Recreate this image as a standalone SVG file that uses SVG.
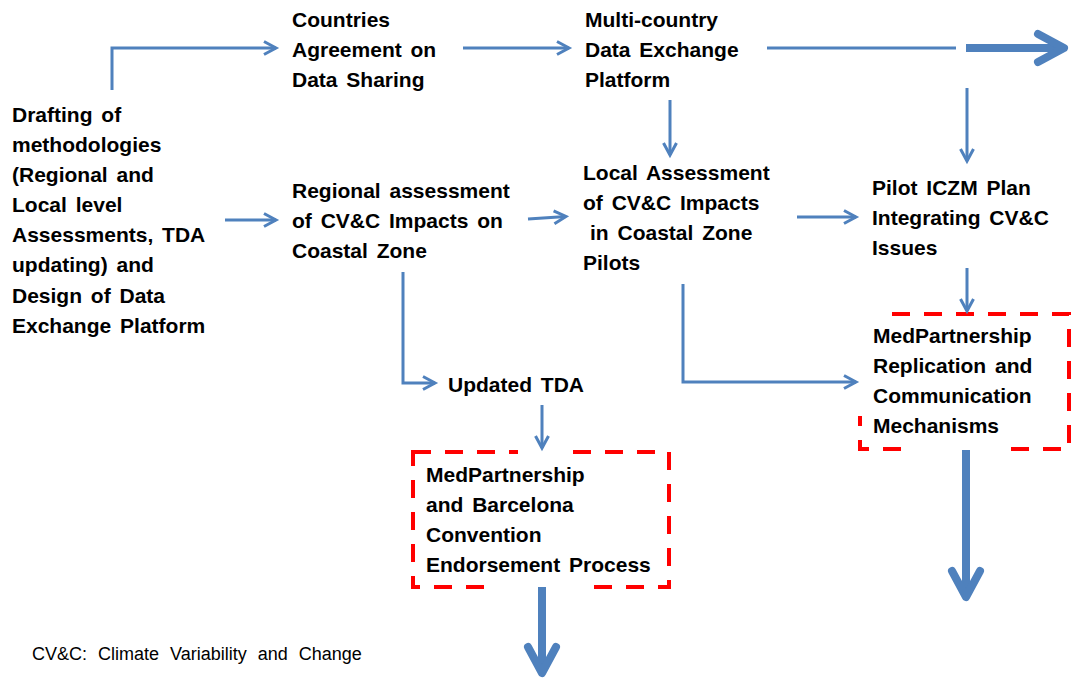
<svg xmlns="http://www.w3.org/2000/svg" width="1071" height="683" viewBox="0 0 1071 683">
<style>
.t{font-family:"Liberation Sans",Arial,sans-serif;font-weight:bold;font-size:21px;fill:#000;word-spacing:3px}
.note{font-family:"Liberation Sans",Arial,sans-serif;font-size:18px;fill:#000;word-spacing:6px}
.c{fill:none;stroke:#4F81BD;stroke-width:3}
.big{fill:none;stroke:#4F81BD;stroke-width:8}
.box{fill:none;stroke:#FF0000;stroke-width:4;stroke-dasharray:18 14}
.mask{fill:#fff;stroke:none}
</style>
<defs>
<marker id="ah" markerUnits="userSpaceOnUse" viewBox="-16 -10 20 20" refX="0" refY="0" markerWidth="20" markerHeight="20" orient="auto">
<path d="M-12,-6.5 L0,0 L-12,6.5" fill="none" stroke="#4F81BD" stroke-width="3"/>
</marker>
<marker id="bh" markerUnits="userSpaceOnUse" viewBox="-34 -20 40 40" refX="0" refY="0" markerWidth="40" markerHeight="40" orient="auto">
<path d="M-26,-14 L0,0 L-26,14" fill="none" stroke="#4F81BD" stroke-width="8" stroke-linecap="round" stroke-linejoin="round"/>
</marker>
</defs>
<rect width="1071" height="683" fill="#fff"/>

<g id="boxes">
<rect id="box-left" class="box" x="413" y="452" width="256" height="135"/>
<rect id="box-right" class="box" x="860" y="314" width="209" height="135"/>
<rect class="mask" x="490" y="580" width="90" height="14"/>
<rect class="mask" x="518" y="446" width="48" height="12"/>
<rect class="mask" x="915" y="443" width="92" height="12"/>
<rect class="mask" x="850" y="305" width="40" height="111"/>
</g>

<g id="connectors">
<path class="c" d="M112,90 V48 H276" marker-end="url(#ah)"/>
<path class="c" d="M225,220 H276" marker-end="url(#ah)"/>
<path class="c" d="M463,48 H569" marker-end="url(#ah)"/>
<path class="c" d="M767,48 H956"/>
<path class="big" d="M966,48 H1064" marker-end="url(#bh)"/>
<path class="c" d="M670,100 V155" marker-end="url(#ah)"/>
<path class="c" d="M967,88 V161" marker-end="url(#ah)"/>
<path class="c" d="M528,219 L566,216.5" marker-end="url(#ah)"/>
<path class="c" d="M797,217 H856" marker-end="url(#ah)"/>
<path class="c" d="M967,268 V311" marker-end="url(#ah)"/>
<path class="c" d="M403,272 V383 H435" marker-end="url(#ah)"/>
<path class="c" d="M683,284 V382 H856" marker-end="url(#ah)"/>
<path class="c" d="M542,405 V448" marker-end="url(#ah)"/>
<path class="big" d="M542,587 V673" marker-end="url(#bh)"/>
<path class="big" d="M966,450 V597" marker-end="url(#bh)"/>
</g>

<g id="node-drafting">
<text class="t" x="12" y="122">Drafting of</text>
<text class="t" x="12" y="152">methodologies</text>
<text class="t" x="12" y="182">(Regional and</text>
<text class="t" x="12" y="212">Local level</text>
<text class="t" x="12" y="242">Assessments, TDA</text>
<text class="t" x="12" y="272">updating) and</text>
<text class="t" x="12" y="303">Design of Data</text>
<text class="t" x="12" y="333">Exchange Platform</text>
</g>

<g id="node-countries">
<text class="t" x="292" y="27">Countries</text>
<text class="t" x="292" y="57">Agreement on</text>
<text class="t" x="292" y="87">Data Sharing</text>
</g>

<g id="node-multicountry">
<text class="t" x="585" y="27">Multi-country</text>
<text class="t" x="585" y="57">Data Exchange</text>
<text class="t" x="585" y="87">Platform</text>
</g>

<g id="node-regional">
<text class="t" x="292" y="198">Regional assessment</text>
<text class="t" x="292" y="228">of CV&amp;C Impacts on</text>
<text class="t" x="292" y="258">Coastal Zone</text>
</g>

<g id="node-local">
<text class="t" x="583" y="180">Local Assessment</text>
<text class="t" x="583" y="210">of CV&amp;C Impacts</text>
<text class="t" x="590" y="240">in Coastal Zone</text>
<text class="t" x="583" y="270">Pilots</text>
</g>

<g id="node-iczm">
<text class="t" x="872" y="195">Pilot ICZM Plan</text>
<text class="t" x="872" y="225">Integrating CV&amp;C</text>
<text class="t" x="872" y="255">Issues</text>
</g>

<g id="node-tda">
<text class="t" x="448" y="392">Updated TDA</text>
</g>

<g id="node-endorsement">
<text class="t" x="426" y="482">MedPartnership</text>
<text class="t" x="426" y="512">and Barcelona</text>
<text class="t" x="426" y="542">Convention</text>
<text class="t" x="426" y="572">Endorsement Process</text>
</g>

<g id="node-replication">
<text class="t" x="873" y="343">MedPartnership</text>
<text class="t" x="873" y="373">Replication and</text>
<text class="t" x="873" y="403">Communication</text>
<text class="t" x="873" y="433">Mechanisms</text>
</g>

<g id="footnote">
<text class="note" x="32" y="660">CV&amp;C: Climate Variability and Change</text>
</g>
</svg>
